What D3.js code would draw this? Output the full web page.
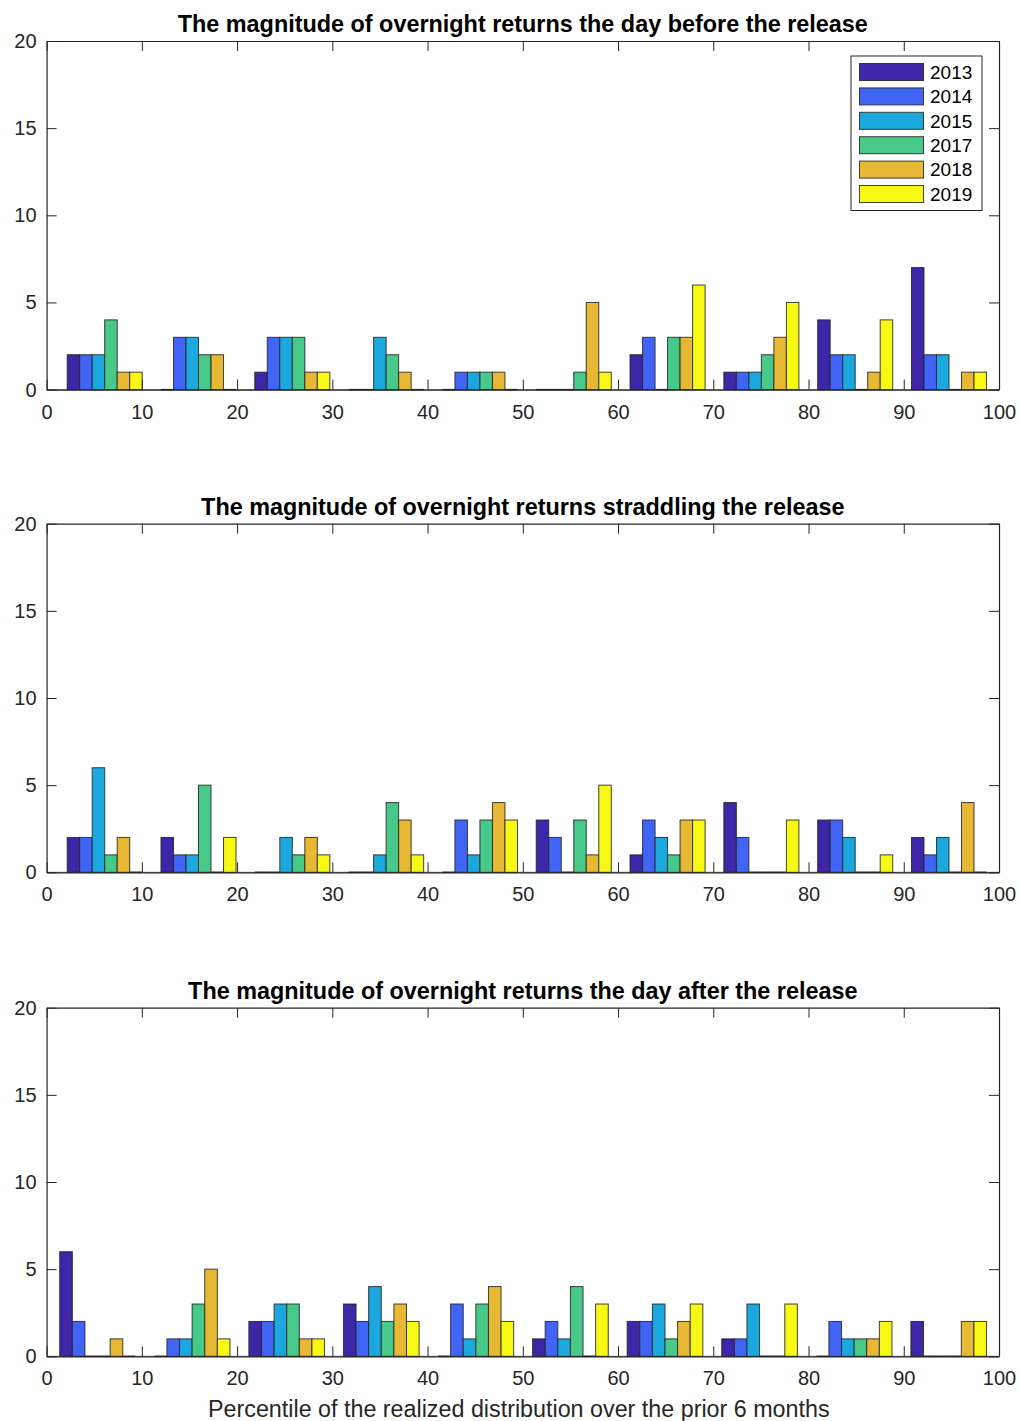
<!DOCTYPE html>
<html>
<head>
<meta charset="utf-8">
<script src="https://cdn.jsdelivr.net/npm/d3@7"></script>
<style>
    body { margin: 0; background: #fff; }
    svg { font-family: "Liberation Sans", Arial, Helvetica, sans-serif; }
</style>
</head>
<body>
<svg id="chart"></svg>
<script>
// series / categories
const years = ['2013', '2014', '2015', '2017', '2018', '2019'];
const yearColors = ['#3d27a8', '#4064f6', '#1ba8de', '#47c98a', '#e7b834', '#f8f815'];

const xTicks = [0, 10, 20, 30, 40, 50, 60, 70, 80, 90, 100];
const yTicks = [0, 5, 10, 15, 20];

// bin centres (percentile)
const centersBefore = [6.1, 15.95, 25.8, 35.65, 45.5, 55.35, 65.2, 75.05, 84.9, 94.75];
const centersStraddle = [6.1, 15.95, 25.8, 35.65, 45.5, 55.35, 65.2, 75.05, 84.9, 94.75];
const centersAfter = [5.35, 15.28, 25.21, 35.14, 45.07, 55.0, 64.93, 74.86, 84.79, 94.72];

// counts per bin, one value per year (2013, 2014, 2015, 2017, 2018, 2019)
const countsBefore = [
    [2, 2, 2, 4, 1, 1],
    [0, 3, 3, 2, 2, 0],
    [1, 3, 3, 3, 1, 1],
    [0, 0, 3, 2, 1, 0],
    [0, 1, 1, 1, 1, 0],
    [0, 0, 0, 1, 5, 1],
    [2, 3, 0, 3, 3, 6],
    [1, 1, 1, 2, 3, 5],
    [4, 2, 2, 0, 1, 4],
    [7, 2, 2, 0, 1, 1]
];
const countsStraddle = [
    [2, 2, 6, 1, 2, 0],
    [2, 1, 1, 5, 0, 2],
    [0, 0, 2, 1, 2, 1],
    [0, 0, 1, 4, 3, 1],
    [0, 3, 1, 3, 4, 3],
    [3, 2, 0, 3, 1, 5],
    [1, 3, 2, 1, 3, 3],
    [4, 2, 0, 0, 0, 3],
    [3, 3, 2, 0, 0, 1],
    [2, 1, 2, 0, 4, 0]
];
const countsAfter = [
    [6, 2, 0, 0, 1, 0],
    [0, 1, 1, 3, 5, 1],
    [2, 2, 3, 3, 1, 1],
    [3, 2, 4, 2, 3, 2],
    [0, 3, 1, 3, 4, 2],
    [1, 2, 1, 4, 0, 3],
    [2, 2, 3, 1, 2, 3],
    [1, 1, 3, 0, 0, 3],
    [0, 2, 1, 1, 1, 2],
    [2, 0, 0, 0, 2, 2]
];

const titles = [
    'The magnitude of overnight returns the day before the release',
    'The magnitude of overnight returns straddling the release',
    'The magnitude of overnight returns the day after the release'
];
const xLabel = 'Percentile of the realized distribution over the prior 6 months';

const panels = [
    { title: titles[0], centers: centersBefore, counts: countsBefore, top: 41, legend: true },
    { title: titles[1], centers: centersStraddle, counts: countsStraddle, top: 523.7 },
    { title: titles[2], centers: centersAfter, counts: countsAfter, top: 1007.7 }
];

const width = 1020, height = 1421;
const plotLeft = 46.6, plotRight = 999, plotHeight = 348.6;
const axisColor = '#262626';

const svg = d3.select('#chart')
    .attr('width', width)
    .attr('height', height);

const xScale = d3.scaleLinear()
    .domain([0, 100])
    .range([plotLeft, plotRight]);

panels.forEach(p => {
    const yScale = d3.scaleLinear()
        .domain([0, 20])
        .range([p.top + plotHeight, p.top]);

    const g = svg.append('g');

    // grouped bar geometry (MATLAB style: group = 0.8 of bin spacing)
    const spacing = d3.mean(d3.pairs(p.centers), d => d[1] - d[0]);
    const groupWidth = 0.8 * spacing;
    const barUnit = groupWidth / years.length;

    const y0 = yScale(0);

    // baseline
    g.append('line')
        .attr('x1', plotLeft).attr('x2', plotRight)
        .attr('y1', y0).attr('y2', y0)
        .attr('stroke', '#8c8c8c')
        .attr('stroke-width', 1.2);

    const flat = [];
    p.counts.forEach((row, i) => {
        row.forEach((v, j) => {
            const x0 = p.centers[i] - groupWidth / 2 + j * barUnit;
            flat.push({ bin: i, series: j, value: v, x0: x0, x1: x0 + barUnit });
        });
    });

    g.selectAll('rect.bar')
        .data(flat.filter(d => d.value > 0))
        .join('rect')
        .attr('class', 'bar')
        .attr('x', d => xScale(d.x0))
        .attr('width', d => xScale(d.x1) - xScale(d.x0))
        .attr('y', d => yScale(d.value))
        .attr('height', d => y0 - yScale(d.value))
        .attr('fill', d => yearColors[d.series])
        .attr('stroke', '#222')
        .attr('stroke-opacity', 0.85)
        .attr('stroke-width', 1);

    // zero-height bars show as a flat edge
    g.selectAll('line.zero')
        .data(flat.filter(d => d.value === 0))
        .join('line')
        .attr('class', 'zero')
        .attr('x1', d => xScale(d.x0))
        .attr('x2', d => xScale(d.x1))
        .attr('y1', y0).attr('y2', y0)
        .attr('stroke', '#222')
        .attr('stroke-width', 1.4);

    // axes, ticks pointing inwards on all four sides
    const bottomAxis = d3.axisBottom(xScale).tickValues(xTicks).tickSize(-10).tickSizeOuter(0).tickPadding(15);
    const topAxis = d3.axisTop(xScale).tickValues(xTicks).tickSize(-10).tickSizeOuter(0).tickFormat('');
    const leftAxis = d3.axisLeft(yScale).tickValues(yTicks).tickSize(-10).tickSizeOuter(0).tickPadding(10);
    const rightAxis = d3.axisRight(yScale).tickValues(yTicks).tickSize(-10).tickSizeOuter(0).tickFormat('');

    const axes = [
        g.append('g').attr('transform', `translate(0,${y0})`).call(bottomAxis),
        g.append('g').attr('transform', `translate(0,${p.top})`).call(topAxis),
        g.append('g').attr('transform', `translate(${plotLeft},0)`).call(leftAxis),
        g.append('g').attr('transform', `translate(${plotRight},0)`).call(rightAxis)
    ];
    axes.forEach(a => {
        a.select('.domain').attr('stroke', axisColor).attr('stroke-width', 1.2);
        a.selectAll('.tick line').attr('stroke', axisColor).attr('stroke-width', 1);
        a.selectAll('.tick text')
            .attr('fill', axisColor)
            .style('font-size', '20px')
            .style('font-family', '"Liberation Sans", Arial, sans-serif');
    });

    g.append('text')
        .attr('x', (plotLeft + plotRight) / 2)
        .attr('y', p.top - 9)
        .attr('text-anchor', 'middle')
        .style('font-weight', 'bold')
        .style('font-size', '23.4px')
        .attr('fill', '#000')
        .text(p.title);

    if (p.legend) {
        const lg = svg.append('g').attr('transform', 'translate(851,56)');
        lg.append('rect')
            .attr('width', 131).attr('height', 154.5)
            .attr('fill', '#fff')
            .attr('stroke', axisColor)
            .attr('stroke-width', 1);
        const item = lg.selectAll('g.item')
            .data(years)
            .join('g')
            .attr('class', 'item')
            .attr('transform', (d, i) => `translate(0,${16 + i * 24.4})`);
        item.append('rect')
            .attr('x', 8.5).attr('y', -8.5)
            .attr('width', 64).attr('height', 17)
            .attr('fill', (d, i) => yearColors[i])
            .attr('stroke', '#222')
            .attr('stroke-opacity', 0.85);
        item.append('text')
            .attr('x', 79)
            .attr('dy', '0.36em')
            .style('font-size', '19px')
            .attr('fill', '#000')
            .text(d => d);
    }
});

svg.append('text')
    .attr('x', (plotLeft + plotRight) / 2 - 4)
    .attr('y', 1416.5)
    .attr('text-anchor', 'middle')
    .style('font-size', '23.3px')
    .attr('fill', axisColor)
    .text(xLabel);
</script>
</body>
</html>
